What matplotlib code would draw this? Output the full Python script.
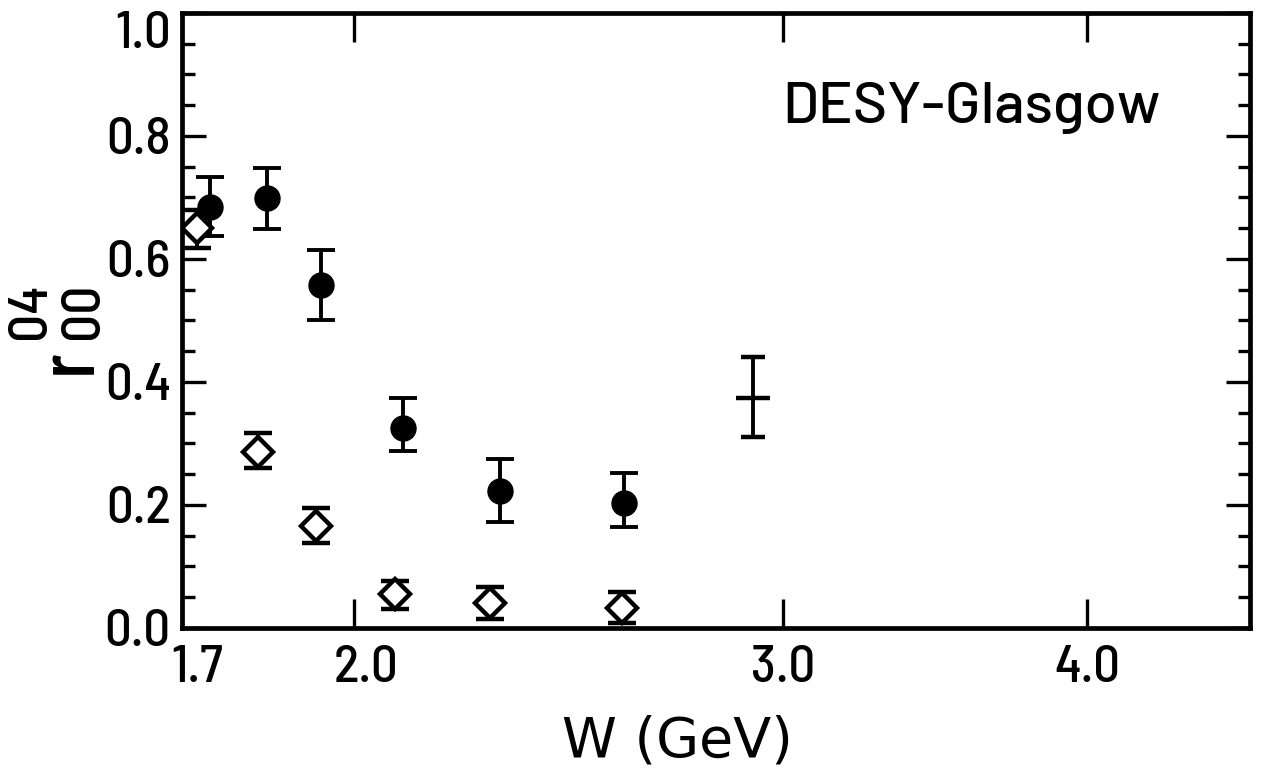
import matplotlib
matplotlib.use("Agg")
import matplotlib.pyplot as plt
import matplotlib.transforms as mtransforms
from matplotlib.ticker import FixedLocator, FixedFormatter, MultipleLocator, NullLocator

# Data
W_circle = [1.745, 1.843, 1.939, 2.094, 2.296, 2.582]
r_circle = [0.685, 0.699, 0.558, 0.325, 0.223, 0.203]
circle_lo = [0.637, 0.649, 0.501, 0.288, 0.172, 0.164]
circle_hi = [0.733, 0.748, 0.615, 0.374, 0.275, 0.252]

W_diamond = [1.724, 1.826, 1.930, 2.079, 2.274, 2.576]
r_diamond = [0.650, 0.286, 0.166, 0.055, 0.041, 0.033]
diamond_lo = [0.618, 0.260, 0.138, 0.031, 0.015, 0.008]
diamond_hi = [0.680, 0.317, 0.195, 0.076, 0.067, 0.058]

W_cross = [2.916]
r_cross = [0.374]
cross_lo = [0.311]
cross_hi = [0.441]

x_ticks = [1.7, 2.0, 3.0, 4.0]
x_ticklabels = ["1.7", "2.0", "3.0", "4.0"]
y_ticks = [0.0, 0.2, 0.4, 0.6, 0.8, 1.0]
y_ticklabels = ["0.0", "0.2", "0.4", "0.6", "0.8", "1.0"]

plt.rcParams['font.family'] = ['Barlow Semi Condensed', 'DejaVu Sans']
plt.rcParams['font.weight'] = 'medium'

W_PX, H_PX = 1262, 783
fig = plt.figure(figsize=(W_PX / 100, H_PX / 100), dpi=100)
ax = fig.add_axes([0.1442, 0.198, 0.8463, 0.7856])

def err(v, lo, hi):
    return [[a - b for a, b in zip(v, lo)], [c - a for a, c in zip(v, hi)]]

ax.errorbar(W_circle, r_circle, yerr=err(r_circle, circle_lo, circle_hi), fmt='o',
            color='black', markersize=18, elinewidth=2.8, capsize=10, capthick=2.8)
ax.errorbar(W_diamond, r_diamond, yerr=err(r_diamond, diamond_lo, diamond_hi), fmt='D',
            color='black', markerfacecolor='white', markeredgewidth=3.2, markersize=15,
            elinewidth=2.8, capsize=10, capthick=2.8)
ax.errorbar(W_cross, r_cross, yerr=err(r_cross, cross_lo, cross_hi), fmt='_',
            color='black', markersize=25, markeredgewidth=3.2, elinewidth=2.8,
            capsize=8.5, capthick=2.8)

ax.set_xscale('log')
ax.set_xlim(1.7, 4.664)
ax.set_ylim(0.0, 1.0)
ax.xaxis.set_major_locator(FixedLocator(x_ticks))
ax.xaxis.set_major_formatter(FixedFormatter(x_ticklabels))
ax.xaxis.set_minor_locator(NullLocator())
ax.yaxis.set_major_locator(FixedLocator(y_ticks))
ax.yaxis.set_major_formatter(FixedFormatter(y_ticklabels))
ax.yaxis.set_minor_locator(MultipleLocator(0.05))

for s in ax.spines.values():
    s.set_linewidth(3.4)
ax.tick_params(axis='both', which='both', direction='in', top=True, right=True, width=2.4)
ax.tick_params(axis='x', which='major', length=21, labelsize=38, pad=12)
ax.tick_params(axis='y', which='major', length=17, labelsize=38, pad=8)
ax.tick_params(axis='y', which='minor', length=9)

# small offsets of some tick labels, as in the original
fig.canvas.draw()
for lab, dx in zip(ax.get_xticklabels(), [15, 12, 0, 0]):
    lab.set_transform(lab.get_transform() + mtransforms.ScaledTranslation(dx / 100, 0, fig.dpi_scale_trans))
for lab, dy in zip(ax.get_yticklabels(), [0, 0, 0, 0, 0, -17]):
    lab.set_transform(lab.get_transform() + mtransforms.ScaledTranslation(0, dy / 100, fig.dpi_scale_trans))

ax.set_xlabel("W (GeV)", fontsize=40, va='center', family='DejaVu Sans', weight='normal')
ax.xaxis.set_label_coords(0.464, -0.184)

# y label r^{04}_{00}, rotated, built from its parts
def fig_xy(px, py):
    return px / W_PX, 1 - py / H_PX

fig.text(*fig_xy(91, 374), "r", rotation=90, rotation_mode='anchor',
         ha='left', va='baseline', fontsize=58, family=['Barlow Condensed', 'DejaVu Sans'])
fig.text(*fig_xy(45, 339), "04", rotation=90, rotation_mode='anchor',
         ha='left', va='baseline', fontsize=40)
fig.text(*fig_xy(98, 339), "00", rotation=90, rotation_mode='anchor',
         ha='left', va='baseline', fontsize=40)

ax.text(0.562, 0.821, "DESY-Glasgow", transform=ax.transAxes, fontsize=42,
        family=['Barlow', 'DejaVu Sans'], ha='left', va='baseline')

fig.savefig("out.png", dpi=100)
